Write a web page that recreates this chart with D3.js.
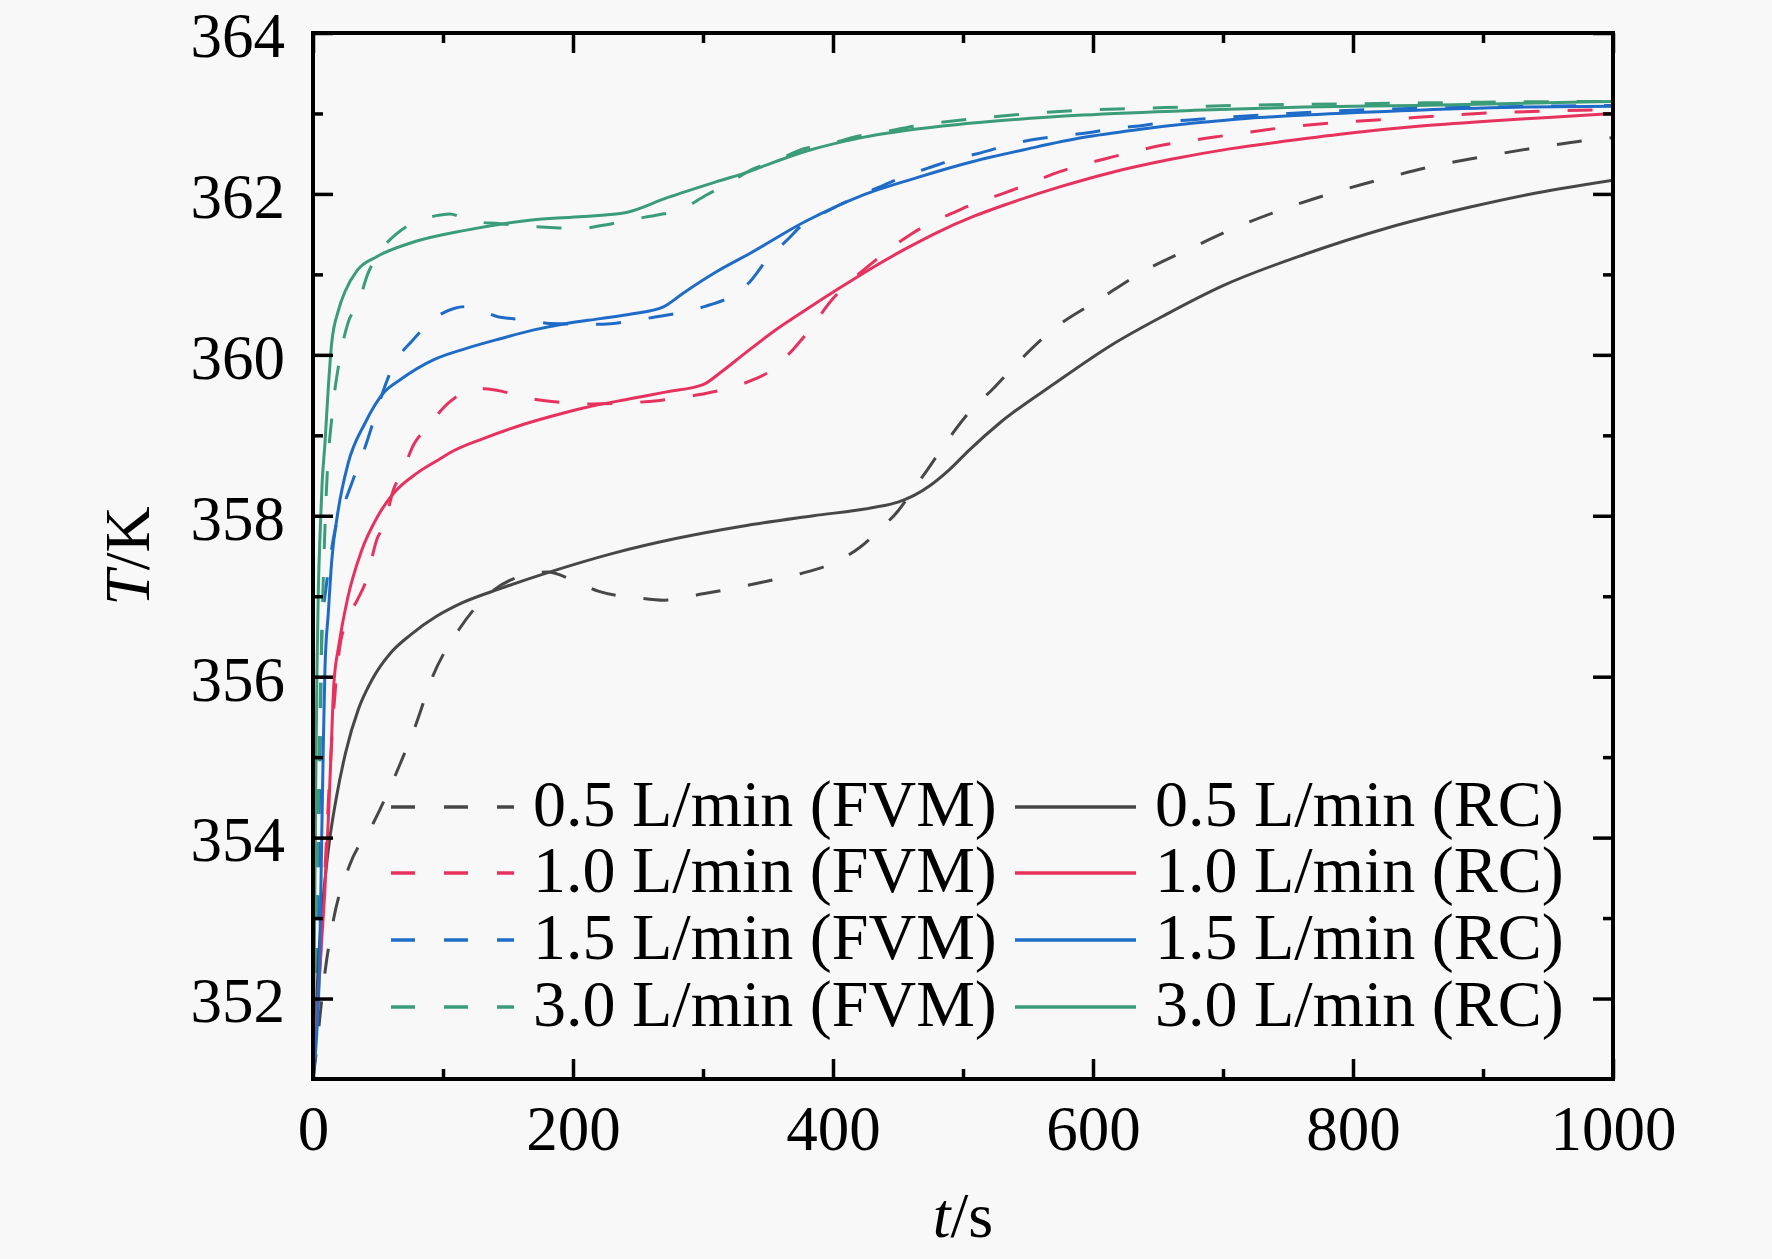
<!DOCTYPE html>
<html><head><meta charset="utf-8">
<script src="https://cdn.jsdelivr.net/npm/d3@7"></script>
<style>html,body{margin:0;padding:0;background:#f8f8f8;}svg{display:block;}</style>
</head><body><svg id="c" width="1772" height="1259"></svg>
<script>
// ---- data ----
const xMajorTicks = [0, 200, 400, 600, 800, 1000];
const xMinorTicks = [100, 300, 500, 700, 900];
const yMajorTicks = [352, 354, 356, 358, 360, 362, 364];
const yMinorTicks = [353, 355, 357, 359, 361, 363];
const flowLabels = ["0.5 L/min", "1.0 L/min", "1.5 L/min", "3.0 L/min"];
const seriesColors = ["#474747", "#e8325e", "#1f6cc8", "#3a9c78"];

const fvm05 = [[0,351],[3,351.4],[5.5,351.8],[9,352.3],[16,353.0],[28,353.65],[47,354.2],[64,354.8],[79,355.4],[92,356.0],[112,356.58],[137,357.05],[160,357.25],[180,357.3],[200,357.2],[220,357.06],[250,356.98],[270,356.95],[300,357.03],[330,357.12],[350,357.19],[375,357.28],[405,357.45],[420,357.6],[436,357.83],[450,358.06],[462,358.33],[473,358.58],[490,358.98],[510,359.38],[522,359.56],[540,359.87],[572,360.35],[604,360.68],[638,361.03],[676,361.33],[711,361.59],[748,361.82],[788,362.03],[826,362.2],[866,362.36],[906,362.48],[947,362.59],[987,362.68],[1000,362.7]];
const rc05 = [[0,351],[2,351.7],[4,352.4],[7,353.1],[10,353.6],[13,354],[18,354.5],[25,355.05],[35,355.6],[45,355.95],[60,356.3],[75,356.52],[95,356.75],[115,356.92],[145,357.1],[180,357.29],[230,357.53],[280,357.72],[330,357.87],[385,358.0],[430,358.1],[450,358.17],[462,358.25],[475,358.38],[490,358.58],[505,358.82],[528,359.15],[571,359.65],[614,360.12],[656,360.5],[700,360.86],[763,361.25],[827,361.58],[891,361.84],[934,361.99],[1000,362.17]];
const fvm10 = [[0,351],[4,352],[8,353.2],[12,354.5],[16,355.6],[20,356.3],[26,356.7],[34,356.95],[41,357.2],[49,357.7],[55,357.9],[62,358.33],[68,358.52],[78,358.9],[88,359.1],[104,359.4],[119,359.55],[132,359.58],[150,359.53],[170,359.45],[190,359.41],[215,359.39],[237,359.4],[265,359.43],[295,359.5],[318,359.58],[340,359.7],[353,359.81],[370,360.08],[379,360.25],[400,360.7],[430,361.14],[460,361.5],[500,361.82],[540,362.06],[575,362.28],[615,362.46],[655,362.61],[695,362.71],[750,362.83],[790,362.89],[830,362.93],[875,362.98],[910,363.01],[950,363.03],[1000,363.05]];
const rc10 = [[0,351],[3,351.8],[5,352.3],[7,352.8],[9,353.3],[12,354.3],[14,355.1],[16,355.9],[20,356.4],[27,357],[37,357.55],[50,358],[62,358.28],[80,358.53],[97,358.7],[105,358.78],[131,358.96],[157,359.11],[182,359.23],[208,359.34],[246,359.46],[272,359.54],[300,359.63],[315,359.8],[330,359.99],[355,360.3],[380,360.57],[405,360.83],[430,361.08],[455,361.31],[480,361.52],[508,361.72],[535,361.88],[575,362.09],[615,362.27],[660,362.43],[705,362.56],[750,362.66],[800,362.76],[850,362.84],[900,362.9],[950,362.95],[1000,363.0]];
const fvm15 = [[0,351],[3,352.5],[5,354.5],[7,356.6],[10,357.1],[13,357.45],[18,357.9],[24,358.15],[32,358.5],[40,358.85],[47,359.2],[54,359.55],[60,359.8],[66,359.98],[76,360.17],[94,360.46],[109,360.58],[118,360.6],[128,360.56],[143,360.47],[167,360.43],[182,360.39],[210,360.38],[223,360.38],[248,360.43],[263,360.47],[287,360.54],[301,360.6],[323,360.74],[335,360.89],[351,361.22],[363,361.4],[380,361.66],[390,361.74],[420,361.98],[435,362.08],[460,362.25],[473,362.32],[500,362.46],[511,362.5],[540,362.63],[552,362.67],[580,362.73],[592,362.75],[620,362.82],[633,362.84],[660,362.9],[674,362.92],[700,362.95],[750,363.0],[800,363.04],[900,363.08],[1000,363.1]];
const rc15 = [[0,351],[3,351.6],[5,352.4],[6.7,354],[8,355.2],[9.2,356.1],[11.8,356.8],[14.4,357.44],[19.5,358.08],[27,358.65],[40,359.15],[55,359.54],[67,359.69],[93,359.94],[118,360.08],[144,360.2],[170,360.31],[195,360.39],[221,360.45],[246,360.51],[270,360.6],[285,360.77],[310,361.03],[336,361.26],[379,361.66],[422,361.98],[464,362.2],[507,362.4],[550,362.56],[592,362.7],[635,362.8],[678,362.88],[720,362.94],[763,362.98],[849,363.04],[934,363.08],[1000,363.09]];
const fvm30 = [[0,351],[3,353.5],[6,356],[10,358.2],[15,359.3],[20,359.9],[27,360.4],[35,360.65],[42,361.0],[50,361.25],[64,361.5],[80,361.66],[95,361.73],[105,361.75],[122,361.66],[144,361.63],[164,361.6],[186,361.58],[203,361.57],[227,361.62],[244,361.68],[266,361.74],[282,361.8],[303,361.99],[316,362.1],[340,362.32],[354,362.4],[380,362.57],[392,362.6],[420,362.72],[432,362.75],[465,362.85],[505,362.93],[545,362.99],[590,363.04],[630,363.06],[670,363.08],[710,363.1],[800,363.12],[900,363.14],[1000,363.15]];
const rc30 = [[0,351],[1,352.5],[2,354.5],[3,356],[4,357],[5.5,357.8],[7,358.4],[9.2,358.9],[11.8,359.6],[14.4,360.15],[19.5,360.55],[25,360.8],[34,361.05],[49,361.22],[75,361.39],[118,361.55],[170,361.68],[208,361.72],[241,361.77],[272,361.95],[310,362.15],[336,362.28],[349,362.36],[379,362.53],[422,362.7],[507,362.88],[592,362.98],[678,363.04],[763,363.08],[849,363.1],[1000,363.15]];

const fvmSeries = [fvm05, fvm10, fvm15, fvm30];
const rcSeries = [rc05, rc10, rc15, rc30];

// ---- layout ----
const FONT = "'Liberation Serif','Times New Roman',serif";
const L = 313, R = 1613, T = 33, B = 1079;
const x = d3.scaleLinear().domain([0, 1000]).range([L, R]);
const y = d3.scaleLinear().domain([351, 364]).range([B, T]);
const svg = d3.select("#c");
svg.append("rect").attr("width", 1772).attr("height", 1259).attr("fill", "#f8f8f8");

svg.append("defs").append("clipPath").attr("id", "clip")
  .append("rect").attr("x", L).attr("y", T).attr("width", R - L).attr("height", B - T);

const line = d3.line().x(d => x(d[0])).y(d => y(d[1])).curve(d3.curveMonotoneX);
const plot = svg.append("g").attr("clip-path", "url(#clip)");
fvmSeries.forEach((s, i) => {
  plot.append("path").datum(s).attr("d", line).attr("fill", "none")
    .attr("stroke", seriesColors[i]).attr("stroke-width", 3)
    .attr("stroke-dasharray", "25,28");
});
rcSeries.forEach((s, i) => {
  plot.append("path").datum(s).attr("d", line).attr("fill", "none")
    .attr("stroke", seriesColors[i]).attr("stroke-width", 3);
});

// ---- axes ----
function styleAxis(g, showText) {
  g.select(".domain").remove();
  g.selectAll(".tick line").attr("stroke", "#000").attr("stroke-width", 3.5);
  g.selectAll(".tick text").attr("font-family", FONT).attr("font-size", 63).attr("fill", "#000");
  if (!showText) g.selectAll(".tick text").remove();
}
svg.append("g").attr("transform", `translate(0,${B})`)
  .call(d3.axisBottom(x).tickValues(xMajorTicks).tickSize(-20).tickPadding(26).tickFormat(d3.format("d")))
  .call(g => styleAxis(g, true));
svg.append("g").attr("transform", `translate(0,${B})`)
  .call(d3.axisBottom(x).tickValues(xMinorTicks).tickSize(-10).tickFormat(""))
  .call(g => styleAxis(g, false));
svg.append("g").attr("transform", `translate(0,${T})`)
  .call(d3.axisTop(x).tickValues(xMajorTicks).tickSize(-20).tickFormat(""))
  .call(g => styleAxis(g, false));
svg.append("g").attr("transform", `translate(0,${T})`)
  .call(d3.axisTop(x).tickValues(xMinorTicks).tickSize(-10).tickFormat(""))
  .call(g => styleAxis(g, false));
svg.append("g").attr("transform", `translate(${L},0)`)
  .call(d3.axisLeft(y).tickValues(yMajorTicks).tickSize(-20).tickPadding(28).tickFormat(d3.format("d")))
  .call(g => styleAxis(g, true))
  .call(g => g.selectAll(".tick text").attr("dy", "0.37em"));
svg.append("g").attr("transform", `translate(${L},0)`)
  .call(d3.axisLeft(y).tickValues(yMinorTicks).tickSize(-10).tickFormat(""))
  .call(g => styleAxis(g, false));
svg.append("g").attr("transform", `translate(${R},0)`)
  .call(d3.axisRight(y).tickValues(yMajorTicks).tickSize(-20).tickFormat(""))
  .call(g => styleAxis(g, false));
svg.append("g").attr("transform", `translate(${R},0)`)
  .call(d3.axisRight(y).tickValues(yMinorTicks).tickSize(-10).tickFormat(""))
  .call(g => styleAxis(g, false));

svg.append("rect").attr("x", L).attr("y", T).attr("width", R - L).attr("height", B - T)
  .attr("fill", "none").attr("stroke", "#000").attr("stroke-width", 4);

// axis titles
const xt = svg.append("text").attr("x", (L + R) / 2).attr("y", 1237).attr("text-anchor", "middle")
  .attr("font-family", FONT).attr("font-size", 64);
xt.append("tspan").attr("font-style", "italic").text("t");
xt.append("tspan").text("/s");
const yt = svg.append("text").attr("transform", `translate(149,${(T + B) / 2}) rotate(-90)`)
  .attr("text-anchor", "middle").attr("font-family", FONT).attr("font-size", 64);
yt.append("tspan").attr("font-style", "italic").text("T");
yt.append("tspan").text("/K");

// ---- legend ----
const rowY = [807, 873, 940, 1007];
const leg = svg.append("g");
flowLabels.forEach((lab, i) => {
  const yy = rowY[i];
  leg.append("line").attr("x1", 391).attr("x2", 514).attr("y1", yy).attr("y2", yy)
    .attr("stroke", seriesColors[i]).attr("stroke-width", 3.5).attr("stroke-dasharray", "24,29");
  leg.append("text").attr("x", 533).attr("y", yy + 19).attr("font-family", FONT)
    .attr("font-size", 66).text(lab + " (FVM)");
  leg.append("line").attr("x1", 1015).attr("x2", 1136).attr("y1", yy).attr("y2", yy)
    .attr("stroke", seriesColors[i]).attr("stroke-width", 3.5);
  leg.append("text").attr("x", 1155).attr("y", yy + 19).attr("font-family", FONT)
    .attr("font-size", 66).text(lab + " (RC)");
});
</script></body></html>
